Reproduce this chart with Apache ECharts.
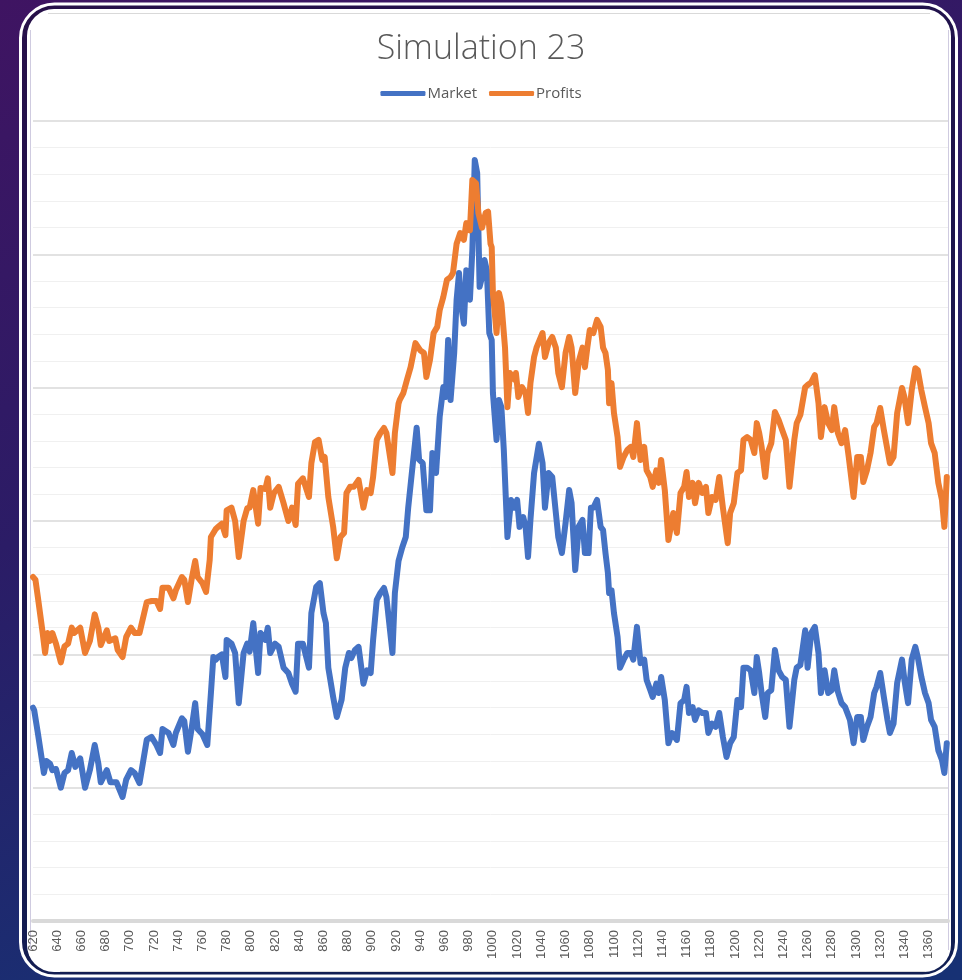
<!DOCTYPE html>
<html>
<head>
<meta charset="utf-8">
<script src="https://cdn.jsdelivr.net/npm/echarts@6/dist/echarts.min.js"></script>
<style>
html,body{margin:0;padding:0;width:962px;height:980px;overflow:hidden;background:#2a1a60;}
#chart{width:962px;height:980px;}
</style>
</head>
<body>
<div id="chart"></div>
<script>
// ---- data (x = step, y = value) ----
const seriesNames = ['Market', 'Profits'];

const marketData = [
[620,80],[621,79],[624,70.5],[627,61.5],[629,55.5],[631,60],[634,59],[636,56.6],[639,57],[643,50],[646,55.5],[649,56.6],[652,63],[655,57.8],[659,61],[663,50],[667,56.6],[671,66],[674,59],[676,52],[681,56.6],[684,52],[689,52],[694,46.5],[697,53],[701,56.6],[704,55.5],[708,51.7],[714,68],[718,69],[722,66],[725,63],[727,72],[732,70.5],[736,66],[738,70.5],[743,76],[745,75],[748,63.5],[751,72],[754,81.7],[756,72],[760,70],[764,66],[767,85.5],[769,99],[771,98],
[773,99],[776,100],[779,91.5],[780,105.4],[784,104],[787,100.5],[790,81.7],[794,100.5],[797,104],[799,101],[802,111.7],[806,93],[808,108],[812,105.4],[814,110],[816,100.5],[820,104],[823,102.8],[827,95],[831,93],[834,89],[837,86],[839,104],[843,104],[848,95],[850,115.5],[854,125.3],[857,126.7],[860,115.5],[862,111.7],[864,95],[868,84],[871,76.5],[875,83],[878,95],[881,100.5],[883,98.6],[886,101.6],[889,102.8],[893,89],[896,94],[899,93],[901,105.4],[904,120.4],[907,123],[910,124.9],[912,121.5],[917,100.5],[919,123],[922,135],
[925,140],[928,144],[930,155],[933,168],[937,185],[939,173],[942,171.7],[945,154],[948,154],[950,175.5],[953,168],[956,189],[959,200.2],[961,196.5],[963,217.9],[965,195.4],[968,213],[970,233],[972,243],[974,230],[976,224],[978,244],[981,233],[983,251.6],[985,285.4],[987,280.5],[989,237.8],[991,241.5],[993,247.9],[995,244],[997,220.5],[999,217.9],[1000,198],[1003,180.4],[1005,195.4],[1007,192.7],[1009,176.6],[1012,144],[1015,157.9],[1018,155],[1020,157.9],[1022,147.8],[1025,151.5],[1027,147.8],[1029,136.5],[1031,150.4],[1034,168],[1038,179],[1041,171.7],[1043,155],[1046,168],[1049,166.5],[1052,153],[1054,144],[1057,138],[1060,149.2],[1063,161.6],[1065,156.7],[1068,131.6],[1071,148],
[1074,150.4],[1076,138],[1079,138],[1081,155],[1083,155],[1086,157.9],[1089,147.8],[1091,146.6],[1093,138],[1095,130.5],[1096,123],[1098,124],[1100,115.5],[1103,106.5],[1105,95],[1108,98],[1111,100.5],[1114,100.5],[1116,98],[1119,110.3],[1122,96.7],[1125,98],[1127,90.4],[1130,86.6],[1132,84],[1135,89],[1137,85.5],[1139,91.5],[1142,82.9],[1145,66.7],[1148,70.5],[1152,67.9],[1155,81.7],[1158,82.9],[1160,87.8],[1162,78],[1165,80.2],[1167,75.4],[1170,79],[1173,78],[1176,78],[1178,70.5],[1181,74],[1184,72.8],[1187,78],[1190,69],[1193,61.5],[1196,66.7],[1199,69],[1202,82.9],[1205,80.2],[1207,95],[1210,95],[1213,94],[1216,85.5],[1218,99],[1220,93],
[1222,85.5],[1225,76.5],[1227,85.5],[1230,86.6],[1233,101.6],[1236,94],[1239,91.5],[1242,90.4],[1245,72.8],[1249,90.4],[1251,95],[1254,96],[1258,109],[1260,95],[1263,108],[1266,110.3],[1269,100.5],[1271,85.5],[1274,94],[1277,85.5],[1280,86.6],[1282,94],[1285,86],[1288,81.7],[1291,80.2],[1295,75.4],[1298,66.7],[1301,76.5],[1304,76.5],[1306,67.9],[1309,72.8],[1312,76.5],[1315,85.5],[1317,87.8],[1320,93],[1323,84],[1326,75.4],[1328,70.5],[1331,74],[1334,89.3],[1338,98],[1340,90.4],[1343,81.7],[1346,98],[1349,102.8],[1351,99],[1354,91.5],[1357,85.5],[1360,81.7],[1362,75.4],[1365,72.8],[1368,64],[1371,60.4],[1373,55.5],[1375,66.7]
];

const profitsData = [
[620,129],[622,128],[624,121.5],[628,108],[630,100.5],[632,108],[634,105],[636,108],[639,104],[643,97],[646,103],[649,104],[652,110],[654,108],[659,110],[663,100.5],[667,105],[671,115],[674,110],[676,103.5],[681,109],[683,105],[688,106],[690,101.6],[694,99],[697,106.5],[701,110],[704,108],[708,108],[714,119.6],[718,120],[722,120],[725,117],[727,125],[732,125],[736,121],[738,124],[743,129],[745,128],[748,119.6],[751,128],[754,135],[756,129],[760,126.7],[763,123.4],[766,135.4],[767,144],[771,147],
[773,147.8],[776,149],[779,144.7],[780,154],[784,155],[787,150],[790,136.5],[794,150],[797,154.8],[799,155],[802,161.6],[806,149],[808,162.4],[812,162],[814,166],[816,155],[819,160.5],[823,162.8],[827,156.7],[831,150],[834,155],[837,148.5],[839,164],[843,166],[848,159],[850,171.7],[853,179.6],[856,180.4],[859,172.9],[861,174],[864,159],[868,147.8],[871,136],[874,144],[877,145.5],[879,160.5],[882,162.8],[885,162.8],[889,165.4],[893,155],[896,161.6],[899,160.5],[901,166.5],[904,180.4],[907,183],[910,184.9],[912,183],[917,168],[919,183],[922,194],
[923,195.4],[926,198],[929,203],[932,207.7],[936,216.7],[940,214],[943,213],[945,204],[948,210.4],[951,220.5],[954,222.8],[956,229],[959,234],[962,240.4],[965,241.5],[967,243],[970,254],[973,258],[976,255.4],[978,261.7],[981,259],[983,277.9],[986,276.7],[988,265.5],[991,260],[994,265.5],[996,266],[998,254],[999,252.7],[1000,235.5],[1003,220.5],[1005,235.5],[1007,231.7],[1010,215],[1012,192.7],[1014,205.5],[1018,203],[1019,205.5],[1021,196.5],[1024,200.2],[1027,198],[1029,190.5],[1031,201.7],[1034,211.5],[1036,215],[1041,220.5],[1043,211.5],[1046,216.7],[1049,219],[1052,215],[1054,205.5],[1057,200.2],[1060,213],[1063,219],[1065,215],[1068,198],[1071,210],
[1074,215],[1076,207.7],[1078,215],[1080,221.6],[1083,220.5],[1086,225.4],[1089,222.8],[1091,215],[1093,213],[1095,206.6],[1096,194.2],[1098,201.7],[1100,190.5],[1103,181.5],[1105,170.3],[1108,174],[1111,176.6],[1114,177.8],[1116,174],[1119,186.7],[1122,172.9],[1125,177.8],[1127,169],[1130,166.5],[1132,162.8],[1135,169],[1137,164.3],[1139,172.9],[1142,161.6],[1145,142.9],[1149,153],[1152,145.5],[1155,160.5],[1158,162.8],[1160,168.4],[1162,159],[1165,164.3],[1167,156.7],[1170,164.3],[1173,160.5],[1176,162.8],[1178,153],[1181,159],[1184,157.9],[1187,166.5],[1190,155],[1194,141.7],[1196,153],[1199,156.7],[1202,168],[1205,169],[1207,180.4],[1210,181.5],[1213,180.4],[1216,175.5],[1218,186.7],[1220,183],
[1222,177.8],[1225,166.5],[1227,175.5],[1230,179.2],[1233,190.9],[1236,188],[1239,184.1],[1242,180.4],[1245,162.8],[1249,180.4],[1251,186.7],[1254,189.8],[1258,200.2],[1260,201],[1263,202],[1266,204.7],[1269,194.2],[1271,181.5],[1274,192.7],[1277,186.7],[1280,184.1],[1282,192.7],[1285,183],[1288,179.2],[1291,184.1],[1294,174],[1298,159],[1301,174],[1304,174],[1306,164.6],[1309,169],[1312,175.5],[1315,185.3],[1317,186.7],[1320,192.4],[1323,184.1],[1326,176.6],[1328,171.7],[1331,174],[1334,190.5],[1338,199.9],[1340,196.5],[1343,186.7],[1346,199],[1349,207.3],[1351,206.6],[1354,199],[1357,192.7],[1360,186.7],[1362,179.2],[1365,175.5],[1368,164.3],[1371,157.9],[1373,147.8],[1375,166.5]
];

const xRange = { min: 620, max: 1376, step: 20 };
const yRange = { min: 0, max: 300, step: 50 };

const chart = echarts.init(document.getElementById('chart'), null, { renderer: 'canvas' });

const bgGrad = new echarts.graphic.LinearGradient(0, 0, 0.35, 1, [
  { offset: 0, color: '#3f1462' },
  { offset: 0.5, color: '#2b1c66' },
  { offset: 1, color: '#173174' }
]);

const decor = [
  { type: 'rect', z: -100, silent: true, shape: { x: 0, y: 0, width: 962, height: 980 }, style: { fill: bgGrad } },
  { type: 'rect', z: -99, silent: true, shape: { x: 20.5, y: 4, width: 936, height: 972, r: 34 },
    style: { fill: 'rgba(12,10,45,0.45)', stroke: '#ffffff', lineWidth: 3 } },
  { type: 'rect', z: -98, silent: true, shape: { x: 27, y: 9, width: 924, height: 963, r: 27 },
    style: { fill: '#ffffff' } },
  { type: 'line', z: -97, silent: true, shape: { x1: 30.5, y1: 30, x2: 30.5, y2: 950 }, style: { stroke: '#cfcbe0', lineWidth: 1 } },
  { type: 'line', z: -97, silent: true, shape: { x1: 948.5, y1: 30, x2: 948.5, y2: 950 }, style: { stroke: '#cfcbe0', lineWidth: 1 } },
  { type: 'line', z: -97, silent: true, shape: { x1: 48, y1: 13.5, x2: 930, y2: 13.5 }, style: { stroke: '#d9d9d9', lineWidth: 1 } },
  { type: 'line', z: -97, silent: true, shape: { x1: 60, y1: 971.5, x2: 925, y2: 971.5 }, style: { stroke: '#d9d9d9', lineWidth: 1 } }
];

const option = {
  animation: false,
  backgroundColor: 'transparent',
  graphic: decor,
  title: {
    text: 'Simulation 23',
    left: 'center',
    top: 27,
    textStyle: { fontFamily: 'Open Sans', fontWeight: 300, fontSize: 34, color: '#595959' }
  },
  legend: {
    data: seriesNames,
    top: 81,
    left: 'center',
    icon: 'roundRect',
    itemWidth: 45,
    itemHeight: 5,
    itemGap: 12,
    textStyle: { fontFamily: 'Open Sans', fontSize: 15, color: '#595959', padding: [0, 0, 0, -3] }
  },
  grid: { left: 33, right: 14, top: 121, bottom: 59 },
  xAxis: {
    type: 'value',
    min: xRange.min,
    max: xRange.max,
    interval: xRange.step,
    offset: 2,
    axisLine: { show: true, lineStyle: { color: '#d9d9d9', width: 4 } },
    axisTick: { show: false },
    splitLine: { show: false },
    axisLabel: { rotate: 90, margin: 7, fontFamily: 'Liberation Sans', fontSize: 13, color: '#595959', showMaxLabel: false,
      formatter: function (v) { return String(v); } }
  },
  yAxis: {
    type: 'value',
    min: yRange.min,
    max: yRange.max,
    interval: yRange.step,
    axisLine: { show: false },
    axisTick: { show: false },
    axisLabel: { show: false },
    splitLine: { show: true, lineStyle: { color: '#d9d9d9', width: 1.5 } },
    minorTick: { show: false, splitNumber: 5 },
    minorSplitLine: { show: true, lineStyle: { color: '#f0f0f0', width: 1 } }
  },
  series: [
    {
      name: seriesNames[0], type: 'line', data: marketData, showSymbol: false, symbol: 'none',
      lineStyle: { color: '#4472C4', width: 6, cap: 'round', join: 'round' },
      itemStyle: { color: '#4472C4' }
    },
    {
      name: seriesNames[1], type: 'line', data: profitsData, showSymbol: false, symbol: 'none',
      lineStyle: { color: '#ED7D31', width: 6, cap: 'round', join: 'round' },
      itemStyle: { color: '#ED7D31' }
    }
  ]
};
chart.setOption(option);
</script>
</body>
</html>
